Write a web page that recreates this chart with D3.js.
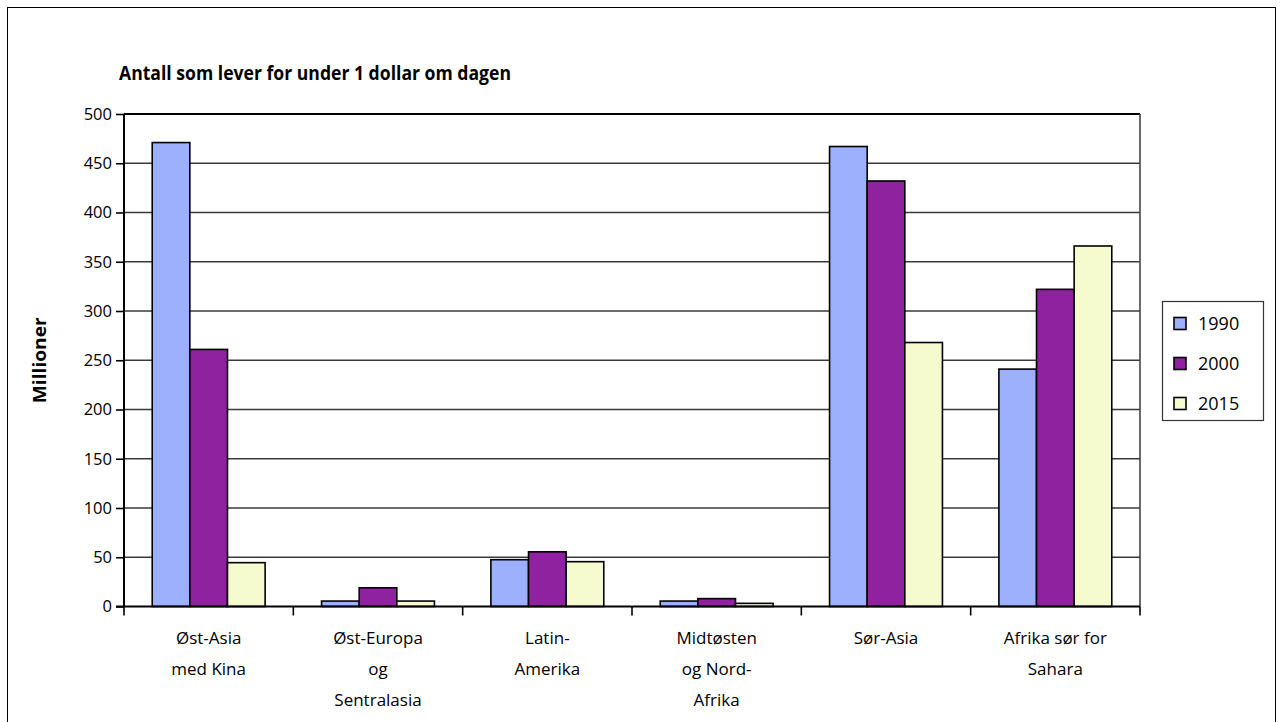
<!DOCTYPE html>
<html>
<head>
<meta charset="utf-8">
<script src="https://cdn.jsdelivr.net/npm/d3@7"></script>
<style>
  html, body { margin: 0; padding: 0; background: #fff; }
  svg { display: block; font-family: "Open Sans", "Noto Sans", sans-serif; }
</style>
</head>
<body>
<svg id="chart" width="1283" height="722"></svg>
<script>
const categories = [
  ["Øst-Asia", "med Kina"],
  ["Øst-Europa", "og", "Sentralasia"],
  ["Latin-", "Amerika"],
  ["Midtøsten", "og Nord-", "Afrika"],
  ["Sør-Asia"],
  ["Afrika sør for", "Sahara"]
];
const seriesNames = ["1990", "2000", "2015"];
const values1990 = [471, 5.5, 47.5, 5.5, 467, 241];
const values2000 = [261, 19, 55.5, 8, 432, 322];
const values2015 = [44.5, 5.5, 45.5, 3.2, 268, 366];
const seriesColors = ["#9DB0FE", "#8F229E", "#F5FACF"];
const yTicks = [0, 50, 100, 150, 200, 250, 300, 350, 400, 450, 500];
const chartTitle = "Antall som lever for under 1 dollar om dagen";
const yTitle = "Millioner";

const seriesValues = [values1990, values2000, values2015];
const svg = d3.select("#chart");

// outer border
svg.append("rect").attr("x", 7.5).attr("y", 7.5).attr("width", 1268).attr("height", 740)
  .attr("fill", "none").attr("stroke", "#000").attr("stroke-width", 1);

const pLeft = 124, pRight = 1140, pTop = 114, pBottom = 606.5;
const catKeys = categories.map((c, i) => i);
const x0 = d3.scaleBand().domain(catKeys).range([pLeft, pRight]).padding(0);
const bw = x0.bandwidth();
const x1 = d3.scaleBand().domain(seriesNames).range([bw / 6, bw * 5 / 6]).padding(0);
const y = d3.scaleLinear().domain([0, 500]).range([pBottom, pTop]);

// gridlines
svg.append("g").selectAll("line").data(yTicks.filter(t => t > 0 && t < 500)).join("line")
  .attr("x1", pLeft).attr("x2", pRight)
  .attr("y1", d => y(d)).attr("y2", d => y(d))
  .attr("stroke", "#3a3a3a").attr("stroke-width", 1.4);

// plot border top & right
svg.append("line").attr("x1", pLeft).attr("x2", pRight).attr("y1", pTop).attr("y2", pTop)
  .attr("stroke", "#000").attr("stroke-width", 2);
svg.append("line").attr("x1", pRight).attr("x2", pRight).attr("y1", pTop).attr("y2", pBottom)
  .attr("stroke", "#444").attr("stroke-width", 1.6);

// bars
const groups = svg.append("g").selectAll("g").data(catKeys).join("g")
  .attr("transform", d => `translate(${x0(d)},0)`);
groups.selectAll("rect").data(ci => seriesNames.map((s, si) => ({ s, si, v: seriesValues[si][ci] }))).join("rect")
  .attr("x", d => x1(d.s)).attr("width", x1.bandwidth())
  .attr("y", d => y(d.v)).attr("height", d => y(0) - y(d.v))
  .attr("fill", d => seriesColors[d.si]).attr("stroke", "#000").attr("stroke-width", 1.6);

// y axis
const yAxis = d3.axisLeft(y).tickValues(yTicks).tickSize(8).tickPadding(4);
const ya = svg.append("g").attr("transform", `translate(${pLeft},0)`).call(yAxis);
ya.select(".domain").attr("stroke", "#000").attr("stroke-width", 2).attr("d", `M0,${pTop}V${pBottom}`);
ya.selectAll(".tick line").attr("stroke", "#000").attr("stroke-width", 1.6);
ya.selectAll(".tick text").attr("font-size", 16.5).attr("fill", "#000")
  .attr("font-family", "'Open Sans', sans-serif");

// x axis
const xAxisScale = d3.scalePoint().domain(d3.range(categories.length + 1)).range([pLeft, pRight]);
const xa = svg.append("g").attr("transform", `translate(0,${pBottom})`);
xa.append("line").attr("x1", pLeft - 8).attr("x2", pRight).attr("y1", 0).attr("y2", 0)
  .attr("stroke", "#000").attr("stroke-width", 2.2);
xa.selectAll("line.tk").data(xAxisScale.domain()).join("line").attr("class", "tk")
  .attr("x1", d => xAxisScale(d)).attr("x2", d => xAxisScale(d))
  .attr("y1", 0).attr("y2", 9).attr("stroke", "#000").attr("stroke-width", 1.6);
const lbl = xa.selectAll("text.cat").data(catKeys).join("text").attr("class", "cat")
  .attr("x", d => x0(d) + bw / 2).attr("y", 37)
  .attr("text-anchor", "middle").attr("font-size", 17).attr("fill", "#000")
  .attr("font-family", "'Open Sans', sans-serif");
lbl.selectAll("tspan").data(d => categories[d]).join("tspan")
  .attr("x", function () { return d3.select(this.parentNode).attr("x"); })
  .attr("dy", (d, i) => i === 0 ? 0 : 31)
  .text(d => d);

// title
svg.append("text").attr("x", 119).attr("y", 80).text(chartTitle)
  .attr("font-size", 19.5).attr("font-weight", "bold").attr("fill", "#000")
  .attr("textLength", 392).attr("lengthAdjust", "spacingAndGlyphs");

// y title
svg.append("text").attr("transform", `translate(46,${(pTop + pBottom) / 2}) rotate(-90)`)
  .attr("text-anchor", "middle").attr("font-size", 17.5).attr("font-weight", "bold")
  .attr("textLength", 86).attr("lengthAdjust", "spacingAndGlyphs").text(yTitle);

// legend
const lg = svg.append("g");
lg.append("rect").attr("x", 1162.5).attr("y", 301.5).attr("width", 101).attr("height", 119)
  .attr("fill", "#fff").attr("stroke", "#333").attr("stroke-width", 1.2);
const ly = d3.scalePoint().domain(seriesNames).range([323.5, 403.5]);
lg.selectAll("rect.sw").data(seriesNames).join("rect").attr("class", "sw")
  .attr("x", 1174).attr("y", d => ly(d) - 6).attr("width", 12).attr("height", 12)
  .attr("fill", (d, i) => seriesColors[i]).attr("stroke", "#000").attr("stroke-width", 1.6);
lg.selectAll("text").data(seriesNames).join("text")
  .attr("x", 1198).attr("y", d => ly(d)).attr("dy", "0.36em")
  .attr("font-size", 18).attr("fill", "#000").text(d => d);
</script>
</body>
</html>
